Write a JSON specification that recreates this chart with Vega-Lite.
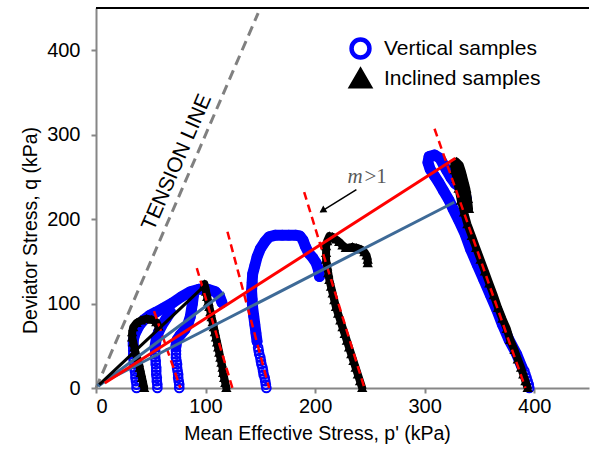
{
  "$schema": "https://vega.github.io/schema/vega-lite/v6.json",
  "width": 493,
  "height": 380,
  "autosize": "none",
  "padding": {"left": 96, "top": 8, "right": 3, "bottom": 65},
  "background": "white",
  "config": {
    "view": {"stroke": null},
    "font": "Liberation Sans",
    "axis": {
      "grid": false,
      "domainColor": "#868686",
      "domainWidth": 2,
      "tickColor": "#868686",
      "tickWidth": 2,
      "tickSize": 5,
      "labelFont": "Liberation Sans",
      "labelFontSize": 20,
      "labelColor": "#000000",
      "titleFont": "Liberation Sans",
      "titleFontSize": 19.5,
      "titleFontWeight": "normal",
      "titleColor": "#000000"
    },
    "legend": {
      "orient": "none",
      "legendX": 253,
      "legendY": 29,
      "symbolSize": 320,
      "symbolStrokeWidth": 4.5,
      "labelFont": "Liberation Sans",
      "labelFontSize": 21,
      "labelColor": "#000000",
      "rowPadding": -7,
      "labelOffset": 12,
      "padding": 0
    }
  },
  "datasets": {
    "vertical": [
      {"series":"Vertical samples","curve":"V1r","i":0,"p":37,"q":0},{"series":"Vertical samples","curve":"V1r","i":1,"p":37,"q":4},{"series":"Vertical samples","curve":"V1r","i":2,"p":36.5,"q":8},{"series":"Vertical samples","curve":"V1r","i":3,"p":36,"q":12},{"series":"Vertical samples","curve":"V1r","i":4,"p":36,"q":16},{"series":"Vertical samples","curve":"V1r","i":5,"p":35.5,"q":20},{"series":"Vertical samples","curve":"V1r","i":6,"p":35,"q":24},{"series":"Vertical samples","curve":"V1r","i":7,"p":35,"q":28},{"series":"Vertical samples","curve":"V1r","i":8,"p":34.5,"q":32},{"series":"Vertical samples","curve":"V1r","i":9,"p":34,"q":36},{"series":"Vertical samples","curve":"V1r","i":10,"p":34,"q":40},{"series":"Vertical samples","curve":"V1r","i":11,"p":34,"q":44},{"series":"Vertical samples","curve":"V1r","i":12,"p":34,"q":48},
      {"series":"Vertical samples","curve":"V1","i":0,"p":34,"q":50},{"series":"Vertical samples","curve":"V1","i":1,"p":34,"q":56},{"series":"Vertical samples","curve":"V1","i":2,"p":35,"q":62},{"series":"Vertical samples","curve":"V1","i":3,"p":37,"q":68},{"series":"Vertical samples","curve":"V1","i":4,"p":40,"q":75},{"series":"Vertical samples","curve":"V1","i":5,"p":44,"q":81},{"series":"Vertical samples","curve":"V1","i":6,"p":49,"q":86},{"series":"Vertical samples","curve":"V1","i":7,"p":55,"q":90},{"series":"Vertical samples","curve":"V1","i":8,"p":62,"q":95},{"series":"Vertical samples","curve":"V1","i":9,"p":70,"q":101},{"series":"Vertical samples","curve":"V1","i":10,"p":78,"q":108},{"series":"Vertical samples","curve":"V1","i":11,"p":86,"q":114},{"series":"Vertical samples","curve":"V1","i":12,"p":94,"q":117},{"series":"Vertical samples","curve":"V1","i":13,"p":102,"q":117},{"series":"Vertical samples","curve":"V1","i":14,"p":109,"q":114},{"series":"Vertical samples","curve":"V1","i":15,"p":113,"q":108},{"series":"Vertical samples","curve":"V1","i":16,"p":115,"q":101},
      {"series":"Vertical samples","curve":"V2r","i":0,"p":56,"q":0},{"series":"Vertical samples","curve":"V2r","i":1,"p":56,"q":4},{"series":"Vertical samples","curve":"V2r","i":2,"p":55.5,"q":8},{"series":"Vertical samples","curve":"V2r","i":3,"p":55.5,"q":12},{"series":"Vertical samples","curve":"V2r","i":4,"p":55,"q":16},{"series":"Vertical samples","curve":"V2r","i":5,"p":55,"q":20},{"series":"Vertical samples","curve":"V2r","i":6,"p":55,"q":24},{"series":"Vertical samples","curve":"V2r","i":7,"p":54.5,"q":28},{"series":"Vertical samples","curve":"V2r","i":8,"p":54.5,"q":32},{"series":"Vertical samples","curve":"V2r","i":9,"p":54,"q":36},{"series":"Vertical samples","curve":"V2r","i":10,"p":54,"q":40},{"series":"Vertical samples","curve":"V2r","i":11,"p":54,"q":44},{"series":"Vertical samples","curve":"V2r","i":12,"p":54,"q":48},
      {"series":"Vertical samples","curve":"V2","i":0,"p":54,"q":50},{"series":"Vertical samples","curve":"V2","i":1,"p":55,"q":58},{"series":"Vertical samples","curve":"V2","i":2,"p":57,"q":66},{"series":"Vertical samples","curve":"V2","i":3,"p":60,"q":74},{"series":"Vertical samples","curve":"V2","i":4,"p":64,"q":82},{"series":"Vertical samples","curve":"V2","i":5,"p":68,"q":90},
      {"series":"Vertical samples","curve":"V3r","i":0,"p":76,"q":0},{"series":"Vertical samples","curve":"V3r","i":1,"p":76,"q":4},{"series":"Vertical samples","curve":"V3r","i":2,"p":75.5,"q":8},{"series":"Vertical samples","curve":"V3r","i":3,"p":75,"q":12},{"series":"Vertical samples","curve":"V3r","i":4,"p":75,"q":16},{"series":"Vertical samples","curve":"V3r","i":5,"p":74.5,"q":20},{"series":"Vertical samples","curve":"V3r","i":6,"p":74,"q":24},{"series":"Vertical samples","curve":"V3r","i":7,"p":74,"q":28},{"series":"Vertical samples","curve":"V3r","i":8,"p":73.5,"q":32},{"series":"Vertical samples","curve":"V3r","i":9,"p":73,"q":36},{"series":"Vertical samples","curve":"V3r","i":10,"p":73,"q":40},{"series":"Vertical samples","curve":"V3r","i":11,"p":73,"q":44},{"series":"Vertical samples","curve":"V3r","i":12,"p":73,"q":48},
      {"series":"Vertical samples","curve":"V3","i":0,"p":73,"q":50},{"series":"Vertical samples","curve":"V3","i":1,"p":74,"q":57},{"series":"Vertical samples","curve":"V3","i":2,"p":77,"q":63},{"series":"Vertical samples","curve":"V3","i":3,"p":81,"q":69},{"series":"Vertical samples","curve":"V3","i":4,"p":84,"q":76},{"series":"Vertical samples","curve":"V3","i":5,"p":86,"q":84},{"series":"Vertical samples","curve":"V3","i":6,"p":87,"q":92},{"series":"Vertical samples","curve":"V3","i":7,"p":88,"q":100},{"series":"Vertical samples","curve":"V3","i":8,"p":89,"q":110},
      {"series":"Vertical samples","curve":"V4r","i":0,"p":155.5,"q":0},{"series":"Vertical samples","curve":"V4r","i":1,"p":155,"q":4},{"series":"Vertical samples","curve":"V4r","i":2,"p":154.5,"q":8},{"series":"Vertical samples","curve":"V4r","i":3,"p":154,"q":12},{"series":"Vertical samples","curve":"V4r","i":4,"p":153,"q":16},{"series":"Vertical samples","curve":"V4r","i":5,"p":152.5,"q":20},{"series":"Vertical samples","curve":"V4r","i":6,"p":152,"q":24},{"series":"Vertical samples","curve":"V4r","i":7,"p":151,"q":28},{"series":"Vertical samples","curve":"V4r","i":8,"p":150.5,"q":32},{"series":"Vertical samples","curve":"V4r","i":9,"p":150,"q":36},{"series":"Vertical samples","curve":"V4r","i":10,"p":149,"q":40},{"series":"Vertical samples","curve":"V4r","i":11,"p":148.5,"q":44},{"series":"Vertical samples","curve":"V4r","i":12,"p":148,"q":48},
      {"series":"Vertical samples","curve":"V4","i":0,"p":147,"q":55},{"series":"Vertical samples","curve":"V4","i":1,"p":146,"q":65},{"series":"Vertical samples","curve":"V4","i":2,"p":145,"q":75},{"series":"Vertical samples","curve":"V4","i":3,"p":144,"q":85},{"series":"Vertical samples","curve":"V4","i":4,"p":143,"q":95},{"series":"Vertical samples","curve":"V4","i":5,"p":142.5,"q":105},{"series":"Vertical samples","curve":"V4","i":6,"p":142,"q":115},{"series":"Vertical samples","curve":"V4","i":7,"p":142.5,"q":125},{"series":"Vertical samples","curve":"V4","i":8,"p":143,"q":135},{"series":"Vertical samples","curve":"V4","i":9,"p":145,"q":145},{"series":"Vertical samples","curve":"V4","i":10,"p":147,"q":155},{"series":"Vertical samples","curve":"V4","i":11,"p":150,"q":165},{"series":"Vertical samples","curve":"V4","i":12,"p":154,"q":173},{"series":"Vertical samples","curve":"V4","i":13,"p":158,"q":179},{"series":"Vertical samples","curve":"V4","i":14,"p":164,"q":181},{"series":"Vertical samples","curve":"V4","i":15,"p":170,"q":181},{"series":"Vertical samples","curve":"V4","i":16,"p":176,"q":181},{"series":"Vertical samples","curve":"V4","i":17,"p":182,"q":181},{"series":"Vertical samples","curve":"V4","i":18,"p":186,"q":180},{"series":"Vertical samples","curve":"V4","i":19,"p":189,"q":175},{"series":"Vertical samples","curve":"V4","i":20,"p":191,"q":168},{"series":"Vertical samples","curve":"V4","i":21,"p":194,"q":160},{"series":"Vertical samples","curve":"V4","i":22,"p":198,"q":154},{"series":"Vertical samples","curve":"V4","i":23,"p":201,"q":148},{"series":"Vertical samples","curve":"V4","i":24,"p":203,"q":140},{"series":"Vertical samples","curve":"V4","i":25,"p":204,"q":132},
      {"series":"Vertical samples","curve":"V5r","i":0,"p":395.5,"q":0},{"series":"Vertical samples","curve":"V5r","i":1,"p":395,"q":4},{"series":"Vertical samples","curve":"V5r","i":2,"p":394,"q":8},{"series":"Vertical samples","curve":"V5r","i":3,"p":393,"q":12},{"series":"Vertical samples","curve":"V5r","i":4,"p":392,"q":16},{"series":"Vertical samples","curve":"V5r","i":5,"p":391,"q":20},
      {"series":"Vertical samples","curve":"V5","i":0,"p":389,"q":24},{"series":"Vertical samples","curve":"V5","i":1,"p":384,"q":40},{"series":"Vertical samples","curve":"V5","i":2,"p":377,"q":57},{"series":"Vertical samples","curve":"V5","i":3,"p":371,"q":75},{"series":"Vertical samples","curve":"V5","i":4,"p":366,"q":92},{"series":"Vertical samples","curve":"V5","i":5,"p":360,"q":110},{"series":"Vertical samples","curve":"V5","i":6,"p":354,"q":128},{"series":"Vertical samples","curve":"V5","i":7,"p":348,"q":146},{"series":"Vertical samples","curve":"V5","i":8,"p":342,"q":164},{"series":"Vertical samples","curve":"V5","i":9,"p":337,"q":182},{"series":"Vertical samples","curve":"V5","i":10,"p":331,"q":199},{"series":"Vertical samples","curve":"V5","i":11,"p":326,"q":212},{"series":"Vertical samples","curve":"V5","i":12,"p":322,"q":223},{"series":"Vertical samples","curve":"V5","i":13,"p":317,"q":234},{"series":"Vertical samples","curve":"V5","i":14,"p":313,"q":243},{"series":"Vertical samples","curve":"V5","i":15,"p":309,"q":251},{"series":"Vertical samples","curve":"V5","i":16,"p":305,"q":259},{"series":"Vertical samples","curve":"V5","i":17,"p":303,"q":267},{"series":"Vertical samples","curve":"V5","i":18,"p":304,"q":274},{"series":"Vertical samples","curve":"V5","i":19,"p":309,"q":276},{"series":"Vertical samples","curve":"V5","i":20,"p":314,"q":272},{"series":"Vertical samples","curve":"V5","i":21,"p":317,"q":265},{"series":"Vertical samples","curve":"V5","i":22,"p":320,"q":258},{"series":"Vertical samples","curve":"V5","i":23,"p":324,"q":249},{"series":"Vertical samples","curve":"V5","i":24,"p":328,"q":242},{"series":"Vertical samples","curve":"V5","i":25,"p":333,"q":237},{"series":"Vertical samples","curve":"V5","i":26,"p":337,"q":230},{"series":"Vertical samples","curve":"V5","i":27,"p":338,"q":224}
    ],
    "inclined": [
      {"series":"Inclined samples","curve":"I1","i":0,"p":44,"q":0},{"series":"Inclined samples","curve":"I1","i":1,"p":43,"q":6},{"series":"Inclined samples","curve":"I1","i":2,"p":42,"q":12},{"series":"Inclined samples","curve":"I1","i":3,"p":41,"q":18},{"series":"Inclined samples","curve":"I1","i":4,"p":40,"q":24},{"series":"Inclined samples","curve":"I1","i":5,"p":39,"q":30},{"series":"Inclined samples","curve":"I1","i":6,"p":37.5,"q":36},{"series":"Inclined samples","curve":"I1","i":7,"p":36,"q":42},{"series":"Inclined samples","curve":"I1","i":8,"p":35,"q":48},{"series":"Inclined samples","curve":"I1","i":9,"p":34,"q":54},{"series":"Inclined samples","curve":"I1","i":10,"p":33,"q":60},{"series":"Inclined samples","curve":"I1","i":11,"p":33,"q":66},{"series":"Inclined samples","curve":"I1","i":12,"p":34,"q":72},{"series":"Inclined samples","curve":"I1","i":13,"p":37,"q":77},{"series":"Inclined samples","curve":"I1","i":14,"p":41,"q":80},{"series":"Inclined samples","curve":"I1","i":15,"p":46,"q":82},{"series":"Inclined samples","curve":"I1","i":16,"p":51,"q":81},{"series":"Inclined samples","curve":"I1","i":17,"p":55,"q":78},{"series":"Inclined samples","curve":"I1","i":18,"p":57,"q":73},
      {"series":"Inclined samples","curve":"I2","i":0,"p":119,"q":0},{"series":"Inclined samples","curve":"I2","i":1,"p":118,"q":6},{"series":"Inclined samples","curve":"I2","i":2,"p":117,"q":12},{"series":"Inclined samples","curve":"I2","i":3,"p":116,"q":18},{"series":"Inclined samples","curve":"I2","i":4,"p":115.5,"q":24},{"series":"Inclined samples","curve":"I2","i":5,"p":114.5,"q":30},{"series":"Inclined samples","curve":"I2","i":6,"p":113.5,"q":36},{"series":"Inclined samples","curve":"I2","i":7,"p":112.5,"q":42},{"series":"Inclined samples","curve":"I2","i":8,"p":111.5,"q":48},{"series":"Inclined samples","curve":"I2","i":9,"p":110.5,"q":54},{"series":"Inclined samples","curve":"I2","i":10,"p":109.5,"q":60},{"series":"Inclined samples","curve":"I2","i":11,"p":108.5,"q":66},{"series":"Inclined samples","curve":"I2","i":12,"p":107.5,"q":72},{"series":"Inclined samples","curve":"I2","i":13,"p":106.5,"q":78},{"series":"Inclined samples","curve":"I2","i":14,"p":105.5,"q":84},{"series":"Inclined samples","curve":"I2","i":15,"p":104.5,"q":90},{"series":"Inclined samples","curve":"I2","i":16,"p":103.5,"q":96},{"series":"Inclined samples","curve":"I2","i":17,"p":102.5,"q":102},{"series":"Inclined samples","curve":"I2","i":18,"p":101.5,"q":108},{"series":"Inclined samples","curve":"I2","i":19,"p":100.5,"q":114},{"series":"Inclined samples","curve":"I2","i":20,"p":99.5,"q":120},{"series":"Inclined samples","curve":"I2","i":21,"p":99,"q":123},
      {"series":"Inclined samples","curve":"I3","i":0,"p":243,"q":0},{"series":"Inclined samples","curve":"I3","i":1,"p":241,"q":8},{"series":"Inclined samples","curve":"I3","i":2,"p":239,"q":16},{"series":"Inclined samples","curve":"I3","i":3,"p":237,"q":24},{"series":"Inclined samples","curve":"I3","i":4,"p":235,"q":32},{"series":"Inclined samples","curve":"I3","i":5,"p":233,"q":40},{"series":"Inclined samples","curve":"I3","i":6,"p":231,"q":48},{"series":"Inclined samples","curve":"I3","i":7,"p":229,"q":56},{"series":"Inclined samples","curve":"I3","i":8,"p":227,"q":64},{"series":"Inclined samples","curve":"I3","i":9,"p":225,"q":72},{"series":"Inclined samples","curve":"I3","i":10,"p":223,"q":80},{"series":"Inclined samples","curve":"I3","i":11,"p":221,"q":88},{"series":"Inclined samples","curve":"I3","i":12,"p":219,"q":96},{"series":"Inclined samples","curve":"I3","i":13,"p":217.5,"q":104},{"series":"Inclined samples","curve":"I3","i":14,"p":216,"q":112},{"series":"Inclined samples","curve":"I3","i":15,"p":214.5,"q":120},{"series":"Inclined samples","curve":"I3","i":16,"p":213,"q":128},{"series":"Inclined samples","curve":"I3","i":17,"p":212,"q":136},{"series":"Inclined samples","curve":"I3","i":18,"p":211,"q":144},{"series":"Inclined samples","curve":"I3","i":19,"p":210,"q":152},{"series":"Inclined samples","curve":"I3","i":20,"p":210,"q":160},{"series":"Inclined samples","curve":"I3","i":21,"p":210,"q":168},{"series":"Inclined samples","curve":"I3","i":22,"p":211,"q":174},{"series":"Inclined samples","curve":"I3","i":23,"p":213,"q":180},{"series":"Inclined samples","curve":"I3","i":24,"p":216,"q":179},{"series":"Inclined samples","curve":"I3","i":25,"p":219,"q":176},{"series":"Inclined samples","curve":"I3","i":26,"p":222,"q":173},{"series":"Inclined samples","curve":"I3","i":27,"p":225,"q":169},{"series":"Inclined samples","curve":"I3","i":28,"p":228,"q":166},{"series":"Inclined samples","curve":"I3","i":29,"p":231,"q":166},{"series":"Inclined samples","curve":"I3","i":30,"p":234,"q":167},{"series":"Inclined samples","curve":"I3","i":31,"p":238,"q":166},{"series":"Inclined samples","curve":"I3","i":32,"p":242,"q":164},{"series":"Inclined samples","curve":"I3","i":33,"p":245,"q":161},{"series":"Inclined samples","curve":"I3","i":34,"p":247,"q":157},{"series":"Inclined samples","curve":"I3","i":35,"p":248,"q":152},{"series":"Inclined samples","curve":"I3","i":36,"p":248,"q":148},
      {"series":"Inclined samples","curve":"I4","i":0,"p":394,"q":0},{"series":"Inclined samples","curve":"I4","i":1,"p":392,"q":8},{"series":"Inclined samples","curve":"I4","i":2,"p":390,"q":16},{"series":"Inclined samples","curve":"I4","i":3,"p":388,"q":24},{"series":"Inclined samples","curve":"I4","i":4,"p":385,"q":34},{"series":"Inclined samples","curve":"I4","i":5,"p":382,"q":45},{"series":"Inclined samples","curve":"I4","i":6,"p":378,"q":57},{"series":"Inclined samples","curve":"I4","i":7,"p":375,"q":70},{"series":"Inclined samples","curve":"I4","i":8,"p":371,"q":82},{"series":"Inclined samples","curve":"I4","i":9,"p":367,"q":95},{"series":"Inclined samples","curve":"I4","i":10,"p":363,"q":110},{"series":"Inclined samples","curve":"I4","i":11,"p":359,"q":124},{"series":"Inclined samples","curve":"I4","i":12,"p":355,"q":138},{"series":"Inclined samples","curve":"I4","i":13,"p":351,"q":152},{"series":"Inclined samples","curve":"I4","i":14,"p":347,"q":166},{"series":"Inclined samples","curve":"I4","i":15,"p":343,"q":180},{"series":"Inclined samples","curve":"I4","i":16,"p":339,"q":194},{"series":"Inclined samples","curve":"I4","i":17,"p":336,"q":208},{"series":"Inclined samples","curve":"I4","i":18,"p":333,"q":222},{"series":"Inclined samples","curve":"I4","i":19,"p":331,"q":236},{"series":"Inclined samples","curve":"I4","i":20,"p":329,"q":248},{"series":"Inclined samples","curve":"I4","i":21,"p":327.5,"q":258},{"series":"Inclined samples","curve":"I4","i":22,"p":327,"q":266},{"series":"Inclined samples","curve":"I4","i":23,"p":329,"q":268},{"series":"Inclined samples","curve":"I4","i":24,"p":332,"q":264},{"series":"Inclined samples","curve":"I4","i":25,"p":334,"q":256},{"series":"Inclined samples","curve":"I4","i":26,"p":336,"q":246},{"series":"Inclined samples","curve":"I4","i":27,"p":338,"q":236},{"series":"Inclined samples","curve":"I4","i":28,"p":339.5,"q":224},{"series":"Inclined samples","curve":"I4","i":29,"p":340.5,"q":212}
    ],
    "lines": [
      {"line":"Tension line","p":0,"q":0},{"line":"Tension line","p":148,"q":444},
      {"line":"Red fit","p":8,"q":6},{"line":"Red fit","p":328,"q":272},
      {"line":"Blue fit","p":1,"q":3},{"line":"Blue fit","p":327,"q":220},
      {"line":"Blue fit short","p":2,"q":2},{"line":"Blue fit short","p":117,"q":113},
      {"line":"Black fit","p":3,"q":4},{"line":"Black fit","p":99,"q":121},
      {"line":"A","p":53,"q":91},{"line":"A","p":77,"q":0},
      {"line":"B","p":92,"q":142},{"line":"B","p":124.5,"q":0},
      {"line":"C","p":120,"q":185},{"line":"C","p":158,"q":0},
      {"line":"D","p":190,"q":232},{"line":"D","p":245,"q":0},
      {"line":"E","p":309,"q":307},{"line":"E","p":392,"q":0}
    ],
    "arrow": [
      {"p":237.7,"q":235},{"p":205,"q":208.5}
    ],
    "head": [
      {"p":206.7,"q":210}
    ],
    "notes": [
      {"label":"TENSION LINE","p":74,"q":267}
    ],
    "mlabel": [
      {"label":"m","p":229.5,"q":243}
    ],
    "gtlabel": [
      {"label":">1","p":245,"q":243}
    ],
    "frame": [
      {"p0":0,"p1":450,"q":450}
    ]
  },
  "encoding": {
    "x": {"field":"p","type":"quantitative","title":"Mean Effective Stress, p' (kPa)","scale":{"domain":[0,450],"nice":false,"zero":false},"axis":{"values":[0,100,200,300,400],"labelPadding":3,"titlePadding":8,"titleX":221}},
    "y": {"field":"q","type":"quantitative","title":"Deviator Stress, q (kPa)","scale":{"domain":[0,450],"nice":false},"axis":{"values":[0,100,200,300,400],"labelPadding":11,"titlePadding":6,"titleY":222}}
  },
  "layer": [
    {
      "data": {"name":"frame"},
      "mark": {"type":"rule","color":"#000000","strokeWidth":2},
      "encoding": {"x":{"field":"p0","type":"quantitative"},"x2":{"field":"p1"},"y":{"field":"q","type":"quantitative"}}
    },
    {
      "data": {"name":"vertical"},
      "transform": [{"filter":{"field":"curve","oneOf":["V1","V2","V3","V4","V5"]}}],
      "mark": {"type":"line","color":"#0000FF","strokeWidth":11,"strokeCap":"round","strokeJoin":"round"},
      "encoding": {"detail":{"field":"curve"},"order":{"field":"i","type":"quantitative"}}
    },
    {
      "data": {"name":"vertical"},
      "mark": {"type":"point","strokeWidth":2,"size":75,"opacity":1},
      "encoding": {
        "shape":{"field":"series","type":"nominal","title":null,"scale":{"domain":["Vertical samples","Inclined samples"],"range":["circle","triangle-up"]}},
        "fill":{"field":"series","type":"nominal","title":null,"scale":{"domain":["Vertical samples","Inclined samples"],"range":["transparent","#000000"]}},
        "stroke":{"field":"series","type":"nominal","title":null,"scale":{"domain":["Vertical samples","Inclined samples"],"range":["#0000FF","#000000"]}}
      }
    },
    {
      "data": {"name":"inclined"},
      "mark": {"type":"line","color":"#000000","strokeWidth":8,"strokeCap":"round","strokeJoin":"round"},
      "encoding": {"detail":{"field":"curve"},"order":{"field":"i","type":"quantitative"}}
    },
    {
      "data": {"name":"inclined"},
      "mark": {"type":"point","strokeWidth":1.5,"size":60,"opacity":1},
      "encoding": {
        "shape":{"field":"series","type":"nominal","title":null,"scale":{"domain":["Vertical samples","Inclined samples"],"range":["circle","triangle-up"]}},
        "fill":{"field":"series","type":"nominal","title":null,"scale":{"domain":["Vertical samples","Inclined samples"],"range":["transparent","#000000"]}},
        "stroke":{"field":"series","type":"nominal","title":null,"scale":{"domain":["Vertical samples","Inclined samples"],"range":["#0000FF","#000000"]}}
      }
    },
    {
      "data": {"name":"lines"},
      "transform": [{"filter":{"field":"line","equal":"Tension line"}}],
      "mark": {"type":"line","color":"#808080","strokeWidth":3,"strokeDash":[10,6]},
      "encoding": {}
    },
    {
      "data": {"name":"lines"},
      "transform": [{"filter":{"field":"line","oneOf":["A","B","C","D","E"]}}],
      "mark": {"type":"line","color":"#FF0000","strokeWidth":2.5,"strokeDash":[8,5]},
      "encoding": {"detail":{"field":"line"}}
    },
    {
      "data": {"name":"lines"},
      "transform": [{"filter":{"field":"line","oneOf":["Blue fit","Blue fit short"]}}],
      "mark": {"type":"line","color":"#3E6A97","strokeWidth":3},
      "encoding": {"detail":{"field":"line"}}
    },
    {
      "data": {"name":"lines"},
      "transform": [{"filter":{"field":"line","equal":"Black fit"}}],
      "mark": {"type":"line","color":"#000000","strokeWidth":3},
      "encoding": {}
    },
    {
      "data": {"name":"lines"},
      "transform": [{"filter":{"field":"line","equal":"Red fit"}}],
      "mark": {"type":"line","color":"#FF0000","strokeWidth":3},
      "encoding": {}
    },
    {
      "data": {"name":"arrow"},
      "mark": {"type":"line","color":"#000000","strokeWidth":1.5},
      "encoding": {}
    },
    {
      "data": {"name":"head"},
      "mark": {"type":"point","shape":"triangle-up","filled":true,"color":"#000000","size":60,"angle":238,"opacity":1},
      "encoding": {}
    },
    {
      "data": {"name":"notes"},
      "mark": {"type":"text","font":"Liberation Sans","fontSize":21,"angle":293.4,"align":"center","baseline":"middle","color":"#000000"},
      "encoding": {"text":{"field":"label"}}
    },
    {
      "data": {"name":"mlabel"},
      "mark": {"type":"text","font":"Liberation Serif","fontStyle":"italic","fontSize":21,"align":"left","baseline":"alphabetic","color":"#595959"},
      "encoding": {"text":{"field":"label"}}
    },
    {
      "data": {"name":"gtlabel"},
      "mark": {"type":"text","font":"Liberation Serif","fontSize":21,"align":"left","baseline":"alphabetic","color":"#595959"},
      "encoding": {"text":{"field":"label"}}
    }
  ]
}
